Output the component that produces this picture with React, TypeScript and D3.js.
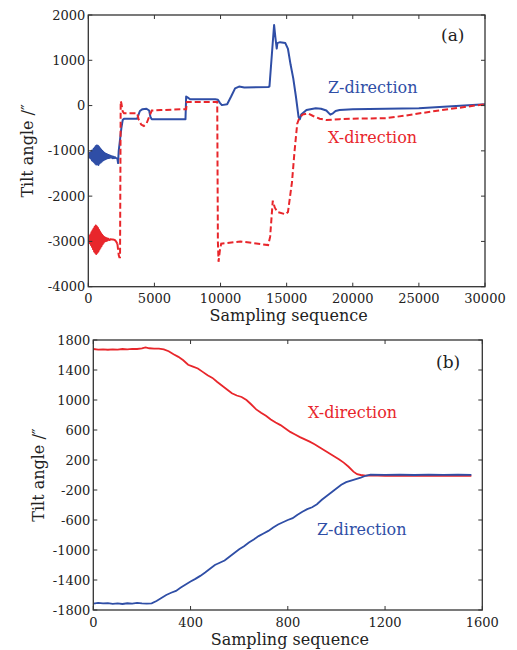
import React from "react";
import * as d3 from "d3";

// ---------- Panel (a) data ----------
const aXTicks = [0, 5000, 10000, 15000, 20000, 25000, 30000];
const aYTicks = [-4000, -3000, -2000, -1000, 0, 1000, 2000];

const aZ: [number, number][] = [
  [0, -1060], [40, -1140], [80, -1050], [120, -1150], [160, -1040], [200, -1170], [240, -1000],
  [280, -1210], [320, -990], [360, -1230], [400, -960], [440, -1250], [480, -930], [520, -1280],
  [560, -900], [600, -1300], [640, -880], [680, -1290], [720, -890], [760, -1310], [800, -910],
  [840, -1280], [880, -940], [920, -1260], [960, -970], [1000, -1240], [1040, -1000], [1080, -1220],
  [1120, -1020], [1160, -1200], [1200, -1040], [1240, -1190], [1280, -1060], [1320, -1180],
  [1360, -1070], [1400, -1170], [1440, -1080], [1480, -1160], [1520, -1090], [1560, -1160],
  [1600, -1100], [1650, -1150], [1700, -1110], [1750, -1150], [1800, -1120], [1850, -1160],
  [1900, -1130], [1950, -1160], [2000, -1140], [2100, -1160], [2200, -1170], [2250, -1270],
  [2300, -1000], [2400, -750], [2500, -500], [2600, -320], [2700, -290], [3000, -290], [3700, -290],
  [3800, -200], [3900, -120], [4100, -80], [4400, -70], [4600, -110], [4700, -250], [4800, -300],
  [5500, -300], [7300, -300], [7350, -300], [7400, 200], [7500, 180], [7700, 140], [9600, 140],
  [9800, 130], [9950, 60], [10100, 10], [10500, 30], [10800, 200], [11100, 380], [11400, 420],
  [11800, 400], [13600, 410], [13700, 420], [13900, 1200], [14050, 1780], [14150, 1500],
  [14250, 1260], [14300, 1380], [14500, 1400], [14900, 1380], [15100, 1250], [15300, 900],
  [15500, 600], [15700, 200], [15900, -250], [16000, -300], [16100, -200], [16300, -150],
  [16500, -100], [16800, -80], [17200, -60], [17600, -70], [18000, -110], [18300, -200],
  [18500, -170], [18700, -120], [19000, -100], [20000, -80], [25000, -60], [30000, 30],
];

const aX: [number, number][] = [
  [0, -2900], [40, -3000], [80, -2880], [120, -3040], [160, -2850], [200, -3080], [240, -2800],
  [280, -3120], [320, -2760], [360, -3170], [400, -2720], [440, -3220], [480, -2680], [520, -3250],
  [560, -2650], [600, -3280], [640, -2670], [680, -3250], [720, -2700], [760, -3220], [800, -2740],
  [840, -3180], [880, -2780], [920, -3140], [960, -2820], [1000, -3100], [1040, -2850], [1080, -3060],
  [1120, -2880], [1160, -3030], [1200, -2900], [1250, -3000], [1300, -2920], [1350, -2990],
  [1400, -2930], [1450, -2980], [1500, -2940], [1600, -2970], [1700, -2950], [1800, -2960],
  [1900, -2960], [2000, -2970], [2100, -3000], [2200, -3050],
  [2300, -3300], [2350, -3350], [2400, -3350], [2450, 100], [2500, 50], [2600, -130], [2700, -170],
  [3700, -170], [3800, -300], [4000, -420], [4200, -450], [4400, -400], [4600, -250], [4800, -110],
  [5500, -100], [7300, -80], [7400, -80], [7450, 80], [9750, 80], [9800, -3000], [9850, -3450],
  [9950, -3200], [10050, -3050], [11500, -3000], [13600, -3080], [13750, -2900], [13950, -2100],
  [14100, -2250], [14300, -2350], [14900, -2400], [15100, -2350], [15400, -1700], [15600, -1000],
  [15800, -400], [15950, -280], [16200, -200], [16600, -170], [17000, -230], [17500, -290],
  [18000, -320], [19000, -300], [20000, -290], [22500, -280], [24000, -220], [26000, -130],
  [28000, -50], [30000, 30],
];

// ---------- Panel (b) data ----------
const bXTicks = [0, 400, 800, 1200, 1600];
const bYTicks = [-1800, -1400, -1000, -600, -200, 200, 600, 1000, 1400, 1800];

const bX: [number, number][] = [
  [0, 1680], [20, 1672], [40, 1676], [60, 1670], [80, 1675], [100, 1673], [120, 1680], [140, 1676],
  [160, 1682], [180, 1680], [200, 1688], [215, 1702], [230, 1690], [250, 1684], [270, 1686],
  [290, 1676], [310, 1650], [330, 1610], [350, 1575], [370, 1530], [390, 1470], [410, 1445],
  [430, 1420], [450, 1375], [470, 1330], [490, 1295], [510, 1240], [530, 1190], [550, 1140],
  [570, 1090], [590, 1060], [610, 1040], [630, 1000], [650, 940], [670, 875], [690, 830],
  [710, 790], [730, 740], [750, 700], [770, 665], [790, 620], [810, 575], [830, 540], [850, 505],
  [870, 475], [890, 445], [910, 410], [930, 370], [950, 330], [970, 290], [990, 250], [1010, 210],
  [1030, 165], [1050, 110], [1070, 45], [1085, 10], [1100, 0], [1120, -8], [1140, -6], [1200, -10],
  [1260, -12], [1320, -8], [1380, -12], [1440, -8], [1500, -12], [1555, -10],
];

const bZ: [number, number][] = [
  [0, -1715], [20, -1705], [40, -1712], [60, -1708], [80, -1718], [100, -1712], [120, -1720],
  [140, -1710], [160, -1714], [180, -1706], [200, -1712], [220, -1716], [240, -1712], [260, -1680],
  [280, -1640], [300, -1600], [320, -1570], [340, -1545], [360, -1500], [380, -1460], [400, -1420],
  [420, -1385], [440, -1345], [460, -1300], [480, -1250], [500, -1200], [520, -1170], [540, -1140],
  [560, -1090], [580, -1040], [600, -990], [620, -950], [640, -900], [660, -860], [680, -815],
  [700, -780], [720, -745], [740, -700], [760, -660], [780, -630], [800, -600], [820, -575],
  [840, -530], [860, -490], [880, -455], [900, -430], [920, -390], [940, -330], [960, -280],
  [980, -230], [1000, -180], [1020, -130], [1040, -95], [1060, -75], [1080, -55], [1100, -35],
  [1120, -10], [1140, 5], [1200, 2], [1260, 4], [1320, 0], [1380, 6], [1440, 2], [1500, 5], [1555, 3],
];

const BLUE = "#2f4ea6";
const RED = "#e8262b";
const FONT = "'DejaVu Serif', serif";

type PanelProps = {
  xDomain: [number, number];
  yDomain: [number, number];
  xRange: [number, number];
  yRange: [number, number];
  xTicks: number[];
  yTicks: number[];
  children: (x: d3.ScaleLinear<number, number>, y: d3.ScaleLinear<number, number>) => React.ReactNode;
  yTitleX: number;
  xTitleY: number;
  xTickY: number;
};

function Panel(p: PanelProps) {
  const x = d3.scaleLinear().domain(p.xDomain).range(p.xRange);
  const y = d3.scaleLinear().domain(p.yDomain).range(p.yRange);
  const [x0, x1] = p.xRange;
  const [y0, y1] = p.yRange; // y0 bottom, y1 top
  const tl = 4;
  const clipId = "clip" + Math.round(y1);
  return (
    <g>
      <defs>
        <clipPath id={clipId}>
          <rect x={x0} y={y1} width={x1 - x0} height={y0 - y1} />
        </clipPath>
      </defs>
      <g clipPath={`url(#${clipId})`}>{p.children(x, y)}</g>
      <rect x={x0} y={y1} width={x1 - x0} height={y0 - y1} fill="none" stroke="#333" strokeWidth={1.3} />
      {p.xTicks.map((t) => (
        <g key={"xt" + t}>
          <line x1={x(t)} x2={x(t)} y1={y0} y2={y0 - tl} stroke="#333" strokeWidth={1} />
          <line x1={x(t)} x2={x(t)} y1={y1} y2={y1 + tl} stroke="#333" strokeWidth={1} />
          <text x={x(t)} y={p.xTickY} textAnchor="middle" fontSize={13} fontFamily={FONT} fill="#222">
            {t}
          </text>
        </g>
      ))}
      {p.yTicks.map((t) => (
        <g key={"yt" + t}>
          <line x1={x0} x2={x0 + tl} y1={y(t)} y2={y(t)} stroke="#333" strokeWidth={1} />
          <line x1={x1} x2={x1 - tl} y1={y(t)} y2={y(t)} stroke="#333" strokeWidth={1} />
          <text x={x0 - 3} y={y(t) + 4.5} textAnchor="end" fontSize={13} fontFamily={FONT} fill="#222">
            {t}
          </text>
        </g>
      ))}
      <text x={(x0 + x1) / 2 + 2} y={p.xTitleY} textAnchor="middle" fontSize={16} fontFamily={FONT} fill="#222">
        Sampling sequence
      </text>
      <text
        transform={`translate(${p.yTitleX},${(y0 + y1) / 2}) rotate(-90)`}
        textAnchor="middle"
        fontSize={16}
        fontFamily={FONT}
        fill="#222"
      >
        Tilt angle /″
      </text>
    </g>
  );
}

export default function App() {
  const mk = (x: d3.ScaleLinear<number, number>, y: d3.ScaleLinear<number, number>) =>
    d3
      .line<[number, number]>()
      .x((d) => x(d[0]))
      .y((d) => y(d[1]));

  return (
    <svg width={517} height={650} style={{ position: "absolute", left: 0, top: 0, background: "#fff" }}>
      <rect width={517} height={650} fill="#fff" />
      <Panel
        xDomain={[0, 30000]}
        yDomain={[-4000, 2000]}
        xRange={[88.3, 485]}
        yRange={[286.7, 15]}
        xTicks={aXTicks}
        yTicks={aYTicks}
        yTitleX={33}
        xTitleY={321}
        xTickY={303}
      >
        {(x, y) => (
          <g>
            <path d={mk(x, y)(aZ) || ""} fill="none" stroke={BLUE} strokeWidth={2} strokeLinejoin="round" />
            <path d={mk(x, y)(aX.slice(0, 44)) || ""} fill="none" stroke={RED} strokeWidth={2} strokeLinejoin="round" />
            <path d={mk(x, y)(aX.slice(43)) || ""} fill="none" stroke={RED} strokeWidth={2} strokeDasharray="6 3" />
          </g>
        )}
      </Panel>
      <text x={441} y={41} fontSize={17} fontFamily={FONT} fill="#222">(a)</text>
      <text x={328} y={93} fontSize={16} fontFamily={FONT} fill={BLUE}>Z-direction</text>
      <text x={328} y={143} fontSize={16} fontFamily={FONT} fill={RED}>X-direction</text>

      <Panel
        xDomain={[0, 1600]}
        yDomain={[-1800, 1800]}
        xRange={[93.3, 482.3]}
        yRange={[610, 340]}
        xTicks={bXTicks}
        yTicks={bYTicks}
        yTitleX={44}
        xTitleY={645}
        xTickY={627}
      >
        {(x, y) => (
          <g>
            <path d={mk(x, y)(bX) || ""} fill="none" stroke={RED} strokeWidth={1.8} />
            <path d={mk(x, y)(bZ) || ""} fill="none" stroke={BLUE} strokeWidth={1.8} />
          </g>
        )}
      </Panel>
      <text x={436} y={368} fontSize={17} fontFamily={FONT} fill="#222">(b)</text>
      <text x={308} y={418} fontSize={16} fontFamily={FONT} fill={RED}>X-direction</text>
      <text x={317} y={535} fontSize={16} fontFamily={FONT} fill={BLUE}>Z-direction</text>
    </svg>
  );
}
